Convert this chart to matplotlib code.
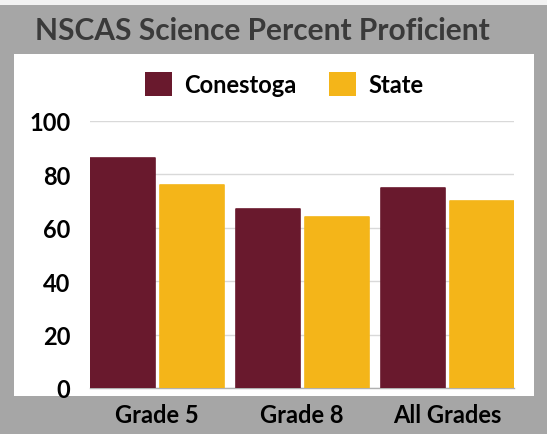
import numpy as np
import matplotlib.pyplot as plt
from matplotlib.patches import Rectangle, Patch

# ---- data ----
categories = ["Grade 5", "Grade 8", "All Grades"]
conestoga = [86, 67, 75]
state = [76, 64, 70]
series_names = ["Conestoga", "State"]
y_ticks = [0, 20, 40, 60, 80, 100]

MAROON = "#69192d"
GOLD = "#f4b519"
FRAME = "#a6a6a6"
FONT = "Lato"

plt.rcParams["font.family"] = [FONT, "DejaVu Sans"]

fig = plt.figure(figsize=(5.47, 4.35), dpi=100)
fig.patch.set_facecolor(FRAME)

# light strip at the top and white inner panel (behind the axes)
fig.patches.append(Rectangle((0, 1 - 6 / 435), 1, 6 / 435, transform=fig.transFigure,
                             facecolor="#f2f2f2", edgecolor="none", zorder=-10))
fig.patches.append(Rectangle((14 / 547, 38 / 435), 520 / 547, 342 / 435,
                             transform=fig.transFigure, facecolor="white",
                             edgecolor="none", zorder=-10))

fig.text(262 / 547, 1 - 31 / 435, "NSCAS Science Percent Proficient",
         ha="center", va="center", fontsize=21.5, fontweight="bold", color="#3a3a3a")

ax = fig.add_axes([90 / 547, 46 / 435, 424 / 547, 267 / 435])
ax.set_facecolor("none")

x = np.arange(len(categories))
w = 64 / 145
off = 34.5 / 145
ax.bar(x - off, conestoga, width=w, color=MAROON, edgecolor=MAROON,
       linewidth=1.2, joinstyle="round", zorder=3)
ax.bar(x + off, state, width=w, color=GOLD, edgecolor=GOLD,
       linewidth=1.2, joinstyle="round", zorder=3)

ax.set_xlim(-67 / 145, 2 + 67 / 145)
ax.set_ylim(0, 100)
ax.set_yticks(y_ticks)
ax.set_xticks(x)
ax.set_xticklabels(categories)
ax.yaxis.grid(True, color="#d9d9d9", linewidth=1.0, zorder=0)
ax.set_axisbelow(True)
for s in ["top", "right", "left"]:
    ax.spines[s].set_visible(False)
ax.spines["bottom"].set_color("#b0b0b0")
ax.spines["bottom"].set_linewidth(1.0)
ax.tick_params(axis="both", length=0, labelsize=17, labelcolor="black")
ax.tick_params(axis="y", pad=14)
ax.tick_params(axis="x", pad=11)
for lab in ax.get_xticklabels() + ax.get_yticklabels():
    lab.set_fontweight("bold")

handles = [Patch(facecolor=MAROON, edgecolor="none"),
           Patch(facecolor=GOLD, edgecolor="none")]
leg = fig.legend(handles, series_names, ncol=2, frameon=False,
                 loc="center", bbox_to_anchor=(284 / 547, 1 - 85 / 435),
                 prop={"family": FONT, "weight": "bold", "size": 17},
                 handlelength=1.15, handleheight=1.15, handletextpad=0.5,
                 columnspacing=1.4)

fig.savefig("out.png", dpi=100, facecolor=fig.get_facecolor())
